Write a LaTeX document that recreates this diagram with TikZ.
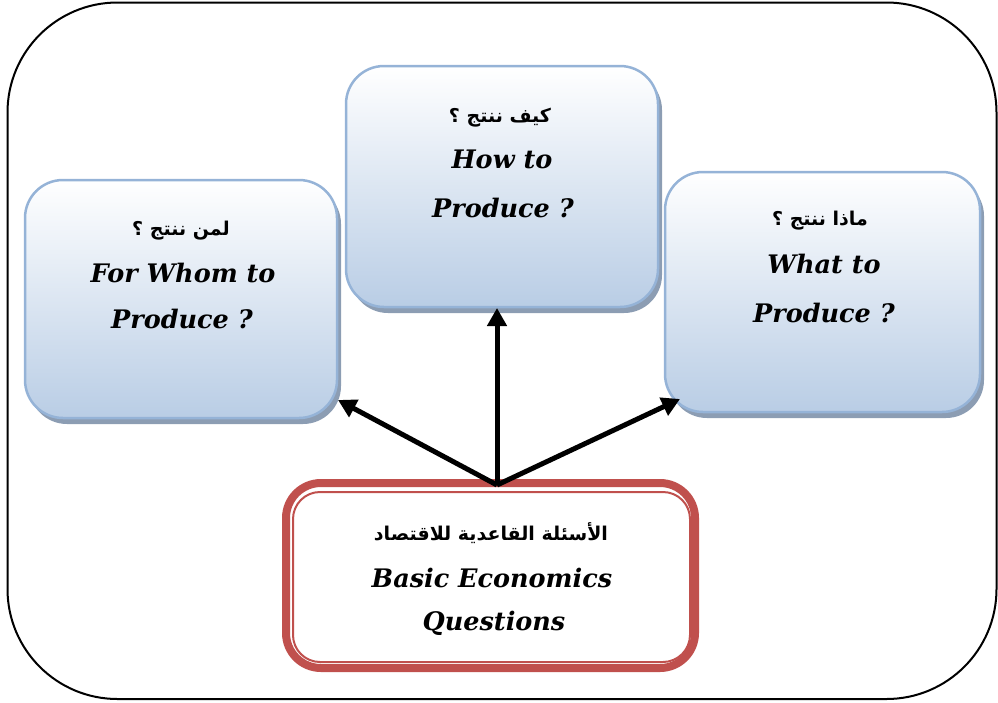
\documentclass[tikz,border=0pt]{standalone}
\usepackage{fontspec}
\setmainfont{DejaVu Serif}
\newfontfamily\arabicfont[Script=Arabic]{DejaVu Sans}
\TeXXeTstate=1
\usetikzlibrary{arrows.meta,shadows}
\definecolor{bluebd}{HTML}{95B3D7}
\definecolor{bluebot}{HTML}{B9CDE5}
\definecolor{shadowc}{HTML}{8C9DB3}
\definecolor{redbd}{HTML}{C0504D}
\tikzset{
  qbox/.style={rectangle, rounded corners=38pt, draw=bluebd, line width=2.5pt,
    top color=white, bottom color=bluebot, inner sep=0pt,
    drop shadow={shadow xshift=4pt, shadow yshift=-6pt, fill=shadowc, opacity=1}},
  ar/.style={anchor=base, font=\arabicfont\bfseries\fontsize{19}{21}\selectfont, inner sep=0pt},
  en/.style={anchor=base, font=\bfseries\itshape\fontsize{25.5}{28}\selectfont, inner sep=0pt},
  arr/.style={line width=5pt, -{Triangle[length=18pt,width=19pt]}}
}
\begin{document}
\begin{tikzpicture}[x=1pt,y=-1pt]
\useasboundingbox (0,0) rectangle (998,702);
% outer frame
\draw[line width=2pt, rounded corners=110pt] (7.5,2.5) rectangle (996.5,699);
% question boxes
\node[qbox, minimum width=312pt, minimum height=238pt] (left) at (181,299) {};
\node[qbox, minimum width=312pt, minimum height=241pt] (mid) at (502,186.5) {};
\node[qbox, minimum width=315pt, minimum height=240pt] (right) at (822.5,292) {};
% bottom box
\node[rectangle, rounded corners=35pt, draw=redbd, line width=8pt, fill=white,
  minimum width=409pt, minimum height=185pt, inner sep=0pt] (basic) at (490.5,575.5) {};
\node[rectangle, rounded corners=27pt, draw=redbd, line width=2pt,
  minimum width=397pt, minimum height=170pt, inner sep=0pt] (basicin) at (491.5,577) {};
% texts
\node[ar] (l1) at (181,235) {\beginR لمن ننتج ؟\endR};
\node[en] (l2) at (183,282) {For Whom to};
\node[en] (l3) at (182,328) {Produce ?};
\node[ar] (m1) at (500,122) {\beginR كيف ننتج ؟\endR};
\node[en] (m2) at (502,168) {How to};
\node[en] (m3) at (503,217) {Produce ?};
\node[ar] (r1) at (820,225) {\beginR ماذا ننتج ؟\endR};
\node[en] (r2) at (824,273) {What to};
\node[en] (r3) at (824,322) {Produce ?};
\node[ar] (b1) at (491,540) {\beginR الأسئلة القاعدية للاقتصاد\endR};
\node[en] (b2) at (492,587) {Basic Economics};
\node[en] (b3) at (494,630) {Questions};
% arrows
\coordinate (src) at (497,485);
\coordinate (tipL) at (338,400);
\coordinate (tipM) at (497,308);
\coordinate (tipR) at (680,399);
\draw[arr] (src) -- (tipL);
\draw[arr] (src) -- (tipM);
\draw[arr] (src) -- (tipR);
\end{tikzpicture}
\end{document}
